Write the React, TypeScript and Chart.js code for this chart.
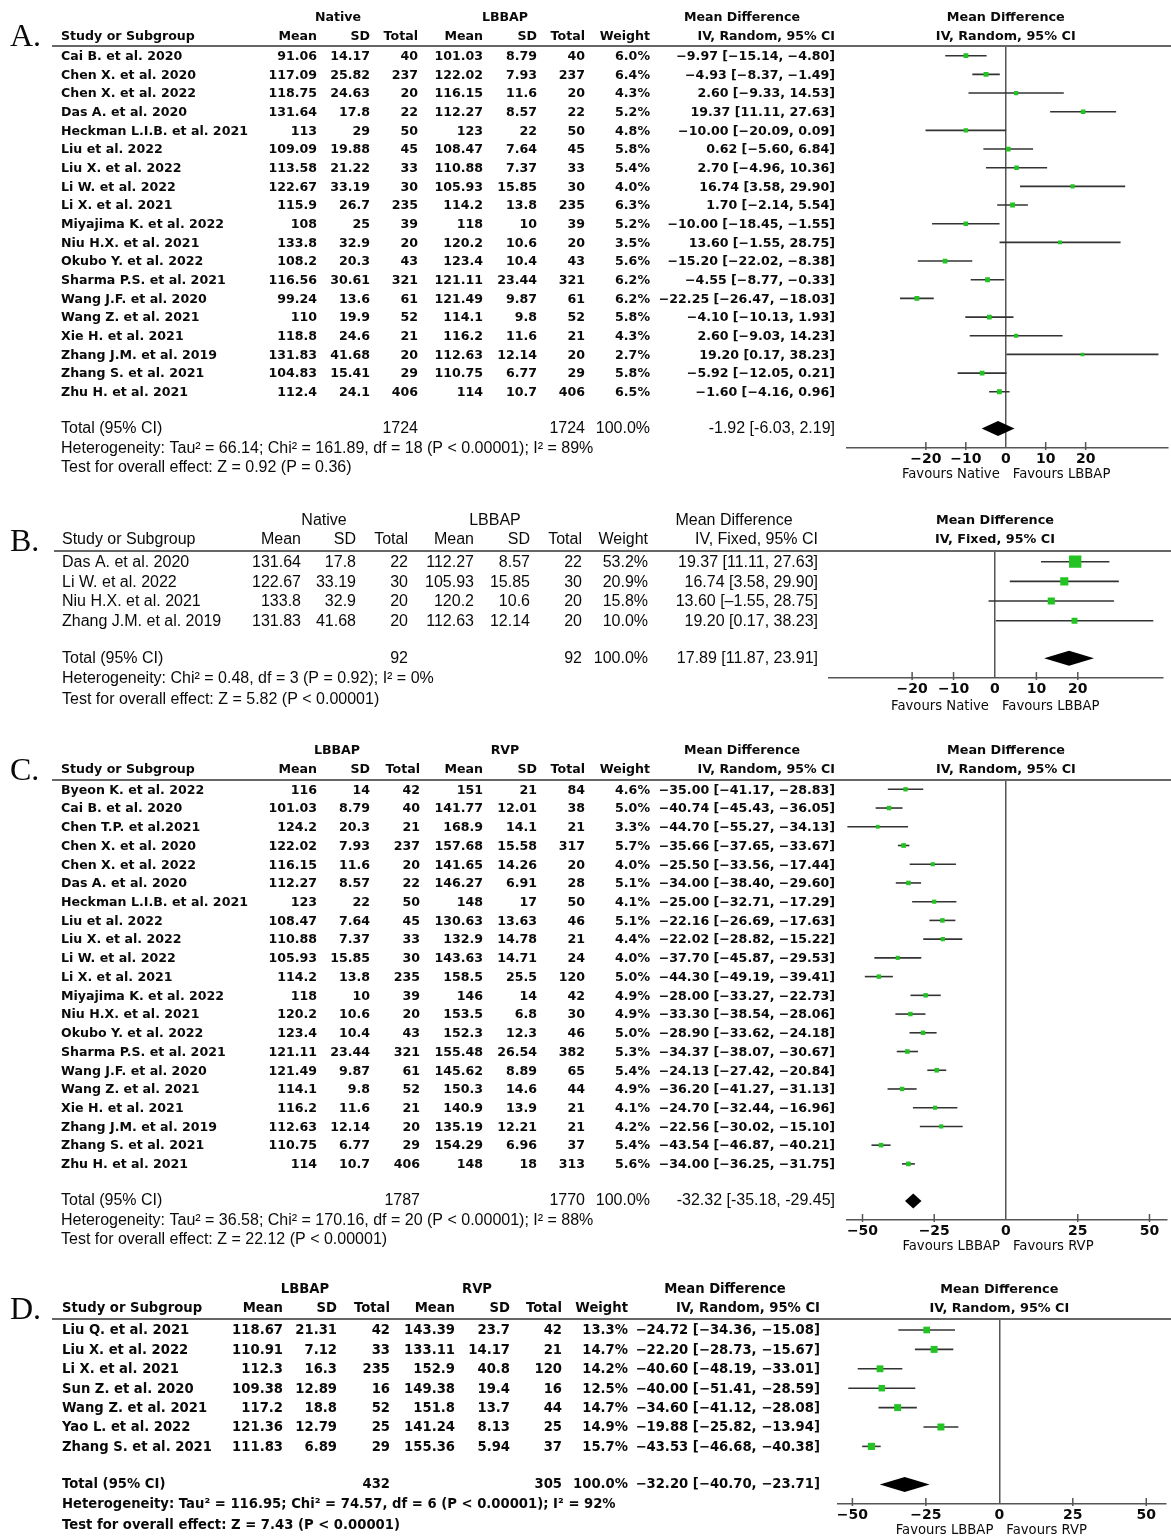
import React, { useEffect, useRef } from "react";
import { Chart, registerables } from "chart.js";

Chart.register(...registerables);

const PAGE_W = 1171;
const PAGE_H = 1537;

// ===== Panel A: Native vs LBBAP (IV, Random) =====
const aStudies = ["Cai B. et al. 2020", "Chen X. et al. 2020", "Chen X. et al. 2022", "Das A. et al. 2020", "Heckman L.I.B. et al. 2021", "Liu et al. 2022", "Liu X. et al. 2022", "Li W. et al. 2022", "Li X. et al. 2021", "Miyajima K. et al. 2022", "Niu H.X. et al. 2021", "Okubo Y. et al. 2022", "Sharma P.S. et al. 2021", "Wang J.F. et al. 2020", "Wang Z. et al. 2021", "Xie H. et al. 2021", "Zhang J.M. et al. 2019", "Zhang S. et al. 2021", "Zhu H. et al. 2021"];
const aNativeMean = [91.06, 117.09, 118.75, 131.64, 113, 109.09, 113.58, 122.67, 115.9, 108, 133.8, 108.2, 116.56, 99.24, 110, 118.8, 131.83, 104.83, 112.4];
const aNativeSD = [14.17, 25.82, 24.63, 17.8, 29, 19.88, 21.22, 33.19, 26.7, 25, 32.9, 20.3, 30.61, 13.6, 19.9, 24.6, 41.68, 15.41, 24.1];
const aNativeN = [40, 237, 20, 22, 50, 45, 33, 30, 235, 39, 20, 43, 321, 61, 52, 21, 20, 29, 406];
const aLbbapMean = [101.03, 122.02, 116.15, 112.27, 123, 108.47, 110.88, 105.93, 114.2, 118, 120.2, 123.4, 121.11, 121.49, 114.1, 116.2, 112.63, 110.75, 114];
const aLbbapSD = [8.79, 7.93, 11.6, 8.57, 22, 7.64, 7.37, 15.85, 13.8, 10, 10.6, 10.4, 23.44, 9.87, 9.8, 11.6, 12.14, 6.77, 10.7];
const aLbbapN = [40, 237, 20, 22, 50, 45, 33, 30, 235, 39, 20, 43, 321, 61, 52, 21, 20, 29, 406];
const aWeight = [6.0, 6.4, 4.3, 5.2, 4.8, 5.8, 5.4, 4.0, 6.3, 5.2, 3.5, 5.6, 6.2, 6.2, 5.8, 4.3, 2.7, 5.8, 6.5];
const aMD = [-9.97, -4.93, 2.6, 19.37, -10.0, 0.62, 2.7, 16.74, 1.7, -10.0, 13.6, -15.2, -4.55, -22.25, -4.1, 2.6, 19.2, -5.92, -1.6];
const aLow = [-15.14, -8.37, -9.33, 11.11, -20.09, -5.6, -4.96, 3.58, -2.14, -18.45, -1.55, -22.02, -8.77, -26.47, -10.13, -9.03, 0.17, -12.05, -4.16];
const aHigh = [-4.8, -1.49, 14.53, 27.63, 0.09, 6.84, 10.36, 29.9, 5.54, -1.55, 28.75, -8.38, -0.33, -18.03, 1.93, 14.23, 38.23, 0.21, 0.96];
const aTotalN = [1724, 1724];
const aTotalMD = [-1.92, -6.03, 2.19];
const aTicks = [-20, -10, 0, 10, 20];
const aHet = "Heterogeneity: Tau² = 66.14; Chi² = 161.89, df = 18 (P < 0.00001); I² = 89%";
const aTest = "Test for overall effect: Z = 0.92 (P = 0.36)";

// ===== Panel B: Native vs LBBAP (IV, Fixed) =====
const bStudies = ["Das A. et al. 2020", "Li W. et al. 2022", "Niu H.X. et al. 2021", "Zhang J.M. et al. 2019"];
const bNativeMean = [131.64, 122.67, 133.8, 131.83];
const bNativeSD = [17.8, 33.19, 32.9, 41.68];
const bNativeN = [22, 30, 20, 20];
const bLbbapMean = [112.27, 105.93, 120.2, 112.63];
const bLbbapSD = [8.57, 15.85, 10.6, 12.14];
const bLbbapN = [22, 30, 20, 20];
const bWeight = [53.2, 20.9, 15.8, 10.0];
const bMD = [19.37, 16.74, 13.6, 19.2];
const bLow = [11.11, 3.58, -1.55, 0.17];
const bHigh = [27.63, 29.9, 28.75, 38.23];
const bTotalN = [92, 92];
const bTotalMD = [17.89, 11.87, 23.91];
const bTicks = [-20, -10, 0, 10, 20];
const bHet = "Heterogeneity: Chi² = 0.48, df = 3 (P = 0.92); I² = 0%";
const bTest = "Test for overall effect: Z = 5.82 (P < 0.00001)";

// ===== Panel C: LBBAP vs RVP (IV, Random) =====
const cStudies = ["Byeon K. et al. 2022", "Cai B. et al. 2020", "Chen T.P. et al.2021", "Chen X. et al. 2020", "Chen X. et al. 2022", "Das A. et al. 2020", "Heckman L.I.B. et al. 2021", "Liu et al. 2022", "Liu X. et al. 2022", "Li W. et al. 2022", "Li X. et al. 2021", "Miyajima K. et al. 2022", "Niu H.X. et al. 2021", "Okubo Y. et al. 2022", "Sharma P.S. et al. 2021", "Wang J.F. et al. 2020", "Wang Z. et al. 2021", "Xie H. et al. 2021", "Zhang J.M. et al. 2019", "Zhang S. et al. 2021", "Zhu H. et al. 2021"];
const cLbbapMean = [116, 101.03, 124.2, 122.02, 116.15, 112.27, 123, 108.47, 110.88, 105.93, 114.2, 118, 120.2, 123.4, 121.11, 121.49, 114.1, 116.2, 112.63, 110.75, 114];
const cLbbapSD = [14, 8.79, 20.3, 7.93, 11.6, 8.57, 22, 7.64, 7.37, 15.85, 13.8, 10, 10.6, 10.4, 23.44, 9.87, 9.8, 11.6, 12.14, 6.77, 10.7];
const cLbbapN = [42, 40, 21, 237, 20, 22, 50, 45, 33, 30, 235, 39, 20, 43, 321, 61, 52, 21, 20, 29, 406];
const cRvpMean = [151, 141.77, 168.9, 157.68, 141.65, 146.27, 148, 130.63, 132.9, 143.63, 158.5, 146, 153.5, 152.3, 155.48, 145.62, 150.3, 140.9, 135.19, 154.29, 148];
const cRvpSD = [21, 12.01, 14.1, 15.58, 14.26, 6.91, 17, 13.63, 14.78, 14.71, 25.5, 14, 6.8, 12.3, 26.54, 8.89, 14.6, 13.9, 12.21, 6.96, 18];
const cRvpN = [84, 38, 21, 317, 20, 28, 50, 46, 21, 24, 120, 42, 30, 46, 382, 65, 44, 21, 21, 37, 313];
const cWeight = [4.6, 5.0, 3.3, 5.7, 4.0, 5.1, 4.1, 5.1, 4.4, 4.0, 5.0, 4.9, 4.9, 5.0, 5.3, 5.4, 4.9, 4.1, 4.2, 5.4, 5.6];
const cMD = [-35.0, -40.74, -44.7, -35.66, -25.5, -34.0, -25.0, -22.16, -22.02, -37.7, -44.3, -28.0, -33.3, -28.9, -34.37, -24.13, -36.2, -24.7, -22.56, -43.54, -34.0];
const cLow = [-41.17, -45.43, -55.27, -37.65, -33.56, -38.4, -32.71, -26.69, -28.82, -45.87, -49.19, -33.27, -38.54, -33.62, -38.07, -27.42, -41.27, -32.44, -30.02, -46.87, -36.25];
const cHigh = [-28.83, -36.05, -34.13, -33.67, -17.44, -29.6, -17.29, -17.63, -15.22, -29.53, -39.41, -22.73, -28.06, -24.18, -30.67, -20.84, -31.13, -16.96, -15.1, -40.21, -31.75];
const cTotalN = [1787, 1770];
const cTotalMD = [-32.32, -35.18, -29.45];
const cTicks = [-50, -25, 0, 25, 50];
const cHet = "Heterogeneity: Tau² = 36.58; Chi² = 170.16, df = 20 (P < 0.00001); I² = 88%";
const cTest = "Test for overall effect: Z = 22.12 (P < 0.00001)";

// ===== Panel D: LBBAP vs RVP (IV, Random) =====
const dStudies = ["Liu Q. et al. 2021", "Liu X. et al. 2022", "Li X. et al. 2021", "Sun Z. et al. 2020", "Wang Z. et al. 2021", "Yao L. et al. 2022", "Zhang S. et al. 2021"];
const dLbbapMean = [118.67, 110.91, 112.3, 109.38, 117.2, 121.36, 111.83];
const dLbbapSD = [21.31, 7.12, 16.3, 12.89, 18.8, 12.79, 6.89];
const dLbbapN = [42, 33, 235, 16, 52, 25, 29];
const dRvpMean = [143.39, 133.11, 152.9, 149.38, 151.8, 141.24, 155.36];
const dRvpSD = [23.7, 14.17, 40.8, 19.4, 13.7, 8.13, 5.94];
const dRvpN = [42, 21, 120, 16, 44, 25, 37];
const dWeight = [13.3, 14.7, 14.2, 12.5, 14.7, 14.9, 15.7];
const dMD = [-24.72, -22.2, -40.6, -40.0, -34.6, -19.88, -43.53];
const dLow = [-34.36, -28.73, -48.19, -51.41, -41.12, -25.82, -46.68];
const dHigh = [-15.08, -15.67, -33.01, -28.59, -28.08, -13.94, -40.38];
const dTotalN = [432, 305];
const dTotalMD = [-32.2, -40.7, -23.71];
const dTicks = [-50, -25, 0, 25, 50];
const dHet = "Heterogeneity: Tau² = 116.95; Chi² = 74.57, df = 6 (P < 0.00001); I² = 92%";
const dTest = "Test for overall effect: Z = 7.43 (P < 0.00001)";

// ===== styles =====
const INK = "#0a0a0a";
const GREEN = "#22c322";
const CI_COLOR = "#333333";
const RULE = "#666666";
const AXIS_COLOR = "#555555";
const LUCIDA = (s: number) => `bold ${s}px "DejaVu Sans"`;
const LUCIDA_REG = (s: number) => `${s}px "DejaVu Sans"`;
const NARROW = (s: number) => `${s}px "Liberation Sans"`;
const AXIS_H = 24;

type Layout = {
  top: number; height: number; letterY: number;
  h1: number; h2: number; line: number; lineX: number;
  row0: number; rowH: number; dy: number;
  totalY: number; hetY: number; testY: number;
  axisY: number; favY: number;
  plotL: number; plotR: number; xMin: number; xMax: number;
  studyX: number; cols: number[];
  g1X: number; g2X: number; mdX: number;
  font: string; headFont: string; totFont: string;
  minus: string; totMinus: string;
};

type Spec = {
  letter: string; group1: string; group2: string; method: string;
  studies: string[]; m1: number[]; s1: number[]; n1: number[];
  m2: number[]; s2: number[]; n2: number[]; w: number[];
  md: number[]; lo: number[]; hi: number[];
  totN: number[]; totMD: number[]; het: string; test: string;
  ticks: number[]; fav: string[]; L: Layout;
};

const specs: Spec[] = [
  {
    letter: "A.", group1: "Native", group2: "LBBAP", method: "IV, Random, 95% CI",
    studies: aStudies, m1: aNativeMean, s1: aNativeSD, n1: aNativeN, m2: aLbbapMean, s2: aLbbapSD, n2: aLbbapN,
    w: aWeight, md: aMD, lo: aLow, hi: aHigh, totN: aTotalN, totMD: aTotalMD, het: aHet, test: aTest,
    ticks: aTicks, fav: ["Favours Native", "Favours LBBAP"],
    L: {
      top: 0, height: 490, letterY: 46, h1: 17.5, h2: 36.5, line: 46, lineX: 52,
      row0: 55.7, rowH: 18.67, dy: 1, totalY: 428.5, hetY: 449, testY: 468, axisY: 448, favY: 475,
      plotL: 847, plotR: 1168, xMin: -39.75, xMax: 40.5,
      studyX: 61, cols: [317, 370, 418, 483, 537, 585, 650, 835], g1X: 338, g2X: 505, mdX: 742,
      font: LUCIDA(12.6), headFont: LUCIDA(12.6), totFont: NARROW(16), minus: "\u2212", totMinus: "-",
    },
  },
  {
    letter: "B.", group1: "Native", group2: "LBBAP", method: "IV, Fixed, 95% CI",
    studies: bStudies, m1: bNativeMean, s1: bNativeSD, n1: bNativeN, m2: bLbbapMean, s2: bLbbapSD, n2: bLbbapN,
    w: bWeight, md: bMD, lo: bLow, hi: bHigh, totN: bTotalN, totMD: bTotalMD, het: bHet, test: bTest,
    ticks: bTicks, fav: ["Favours Native", "Favours LBBAP"],
    L: {
      top: 490, height: 230, letterY: 551, h1: 521, h2: 540, line: 551, lineX: 54,
      row0: 561.7, rowH: 19.67, dy: 1, totalY: 658.3, hetY: 679, testY: 700, axisY: 678, favY: 707,
      plotL: 829, plotR: 1167, xMin: -40.07, xMax: 40.4,
      studyX: 62, cols: [301, 356, 408, 474, 530, 582, 648, 818], g1X: 324, g2X: 495, mdX: 734,
      font: NARROW(16), headFont: NARROW(16), totFont: NARROW(16), minus: "\u2013", totMinus: "-",
    },
  },
  {
    letter: "C.", group1: "LBBAP", group2: "RVP", method: "IV, Random, 95% CI",
    studies: cStudies, m1: cLbbapMean, s1: cLbbapSD, n1: cLbbapN, m2: cRvpMean, s2: cRvpSD, n2: cRvpN,
    w: cWeight, md: cMD, lo: cLow, hi: cHigh, totN: cTotalN, totMD: cTotalMD, het: cHet, test: cTest,
    ticks: cTicks, fav: ["Favours LBBAP", "Favours RVP"],
    L: {
      top: 720, height: 545, letterY: 780, h1: 751, h2: 770, line: 780, lineX: 52,
      row0: 789.3, rowH: 18.73, dy: 1, totalY: 1201, hetY: 1221, testY: 1240, axisY: 1220, favY: 1247,
      plotL: 847, plotR: 1167, xMin: -55.4, xMax: 56.1,
      studyX: 61, cols: [317, 370, 420, 483, 537, 585, 650, 835], g1X: 337, g2X: 505, mdX: 742,
      font: LUCIDA(12.6), headFont: LUCIDA(12.6), totFont: NARROW(16), minus: "\u2212", totMinus: "-",
    },
  },
  {
    letter: "D.", group1: "LBBAP", group2: "RVP", method: "IV, Random, 95% CI",
    studies: dStudies, m1: dLbbapMean, s1: dLbbapSD, n1: dLbbapN, m2: dRvpMean, s2: dRvpSD, n2: dRvpN,
    w: dWeight, md: dMD, lo: dLow, hi: dHigh, totN: dTotalN, totMD: dTotalMD, het: dHet, test: dTest,
    ticks: dTicks, fav: ["Favours LBBAP", "Favours RVP"],
    L: {
      top: 1265, height: 272, letterY: 1319, h1: 1290, h2: 1309, line: 1319, lineX: 52,
      row0: 1330, rowH: 19.4, dy: 1, totalY: 1484.5, hetY: 1505, testY: 1526, axisY: 1504, favY: 1531,
      plotL: 838, plotR: 1166, xMin: -54.9, xMax: 56.7,
      studyX: 62, cols: [283, 337, 390, 455, 510, 562, 628, 820], g1X: 305, g2X: 477, mdX: 725,
      font: LUCIDA(13.2), headFont: LUCIDA(13.2), totFont: LUCIDA(13.2), minus: "\u2212", totMinus: "\u2212",
    },
  },
];

function fmt(v: number, minus: string) {
  return (v < 0 ? minus : "") + Math.abs(v).toFixed(2);
}
function ciText(md: number, lo: number, hi: number, minus: string) {
  return `${fmt(md, minus)} [${fmt(lo, minus)}, ${fmt(hi, minus)}]`;
}
function put(ctx: CanvasRenderingContext2D, s: string, x: number, y: number, align: CanvasTextAlign, font: string) {
  ctx.font = font;
  ctx.textAlign = align;
  ctx.fillText(s, x, y);
}
function squareSide(w: number) {
  return 1.0 + 1.55 * Math.sqrt(w);
}

function makePlugin(S: Spec) {
  const L = S.L;
  const T = L.top;
  const totalIdx = (L.totalY - L.row0) / L.rowH;
  const idxOf = (pageY: number) => (pageY - L.row0) / L.rowH;
  return {
    id: "forestTable" + S.letter,
    afterDatasetsDraw(chart: any) {
      const ctx = chart.ctx as CanvasRenderingContext2D;
      const xs = chart.scales.x;
      const ys = chart.scales.y;
      const y = ys.getPixelForValue(totalIdx);
      const [m, lo, hi] = S.totMD;
      const hh = 7.5;
      ctx.save();
      ctx.fillStyle = "#000";
      ctx.beginPath();
      ctx.moveTo(xs.getPixelForValue(lo), y);
      ctx.lineTo(xs.getPixelForValue(m), y - hh);
      ctx.lineTo(xs.getPixelForValue(hi), y);
      ctx.lineTo(xs.getPixelForValue(m), y + hh);
      ctx.closePath();
      ctx.fill();
      ctx.restore();
    },
    afterDraw(chart: any) {
      const ctx = chart.ctx as CanvasRenderingContext2D;
      const xs = chart.scales.x;
      const ys = chart.scales.y;
      const c = L.cols;
      ctx.save();
      ctx.fillStyle = INK;
      // panel letter
      ctx.textBaseline = "alphabetic";
      put(ctx, S.letter, 10, L.letterY - T, "left", '32px "Liberation Serif"');
      ctx.textBaseline = "middle";
      // header rule
      ctx.strokeStyle = RULE;
      ctx.lineWidth = 2;
      ctx.beginPath();
      ctx.moveTo(L.lineX, L.line - T);
      ctx.lineTo(PAGE_W, L.line - T);
      ctx.stroke();
      // headers
      const h1 = L.h1 - T;
      const h2 = L.h2 - T;
      put(ctx, S.group1, L.g1X, h1, "center", L.headFont);
      put(ctx, S.group2, L.g2X, h1, "center", L.headFont);
      put(ctx, "Mean Difference", L.mdX, h1, "center", L.headFont);
      put(ctx, "Study or Subgroup", L.studyX, h2, "left", L.headFont);
      ["Mean", "SD", "Total", "Mean", "SD", "Total", "Weight", S.method].forEach((h, k) =>
        put(ctx, h, c[k], h2, "right", L.headFont)
      );
      const z = xs.getPixelForValue(0);
      put(ctx, "Mean Difference", z, h1, "center", LUCIDA(12.8));
      put(ctx, S.method, z, h2, "center", LUCIDA(12.8));
      // study rows
      S.studies.forEach((name, i) => {
        const y = ys.getPixelForValue(i) + L.dy;
        put(ctx, name, L.studyX, y, "left", L.font);
        const vals = [
          String(S.m1[i]), String(S.s1[i]), String(S.n1[i]),
          String(S.m2[i]), String(S.s2[i]), String(S.n2[i]),
          S.w[i].toFixed(1) + "%", ciText(S.md[i], S.lo[i], S.hi[i], L.minus),
        ];
        vals.forEach((v, k) => put(ctx, v, c[k], y, "right", L.font));
      });
      // total row
      const ty = ys.getPixelForValue(totalIdx);
      put(ctx, "Total (95% CI)", L.studyX, ty, "left", L.totFont);
      put(ctx, String(S.totN[0]), c[2], ty, "right", L.totFont);
      put(ctx, String(S.totN[1]), c[5], ty, "right", L.totFont);
      put(ctx, "100.0%", c[6], ty, "right", L.totFont);
      put(ctx, ciText(S.totMD[0], S.totMD[1], S.totMD[2], L.totMinus), c[7], ty, "right", L.totFont);
      put(ctx, S.het, L.studyX, ys.getPixelForValue(idxOf(L.hetY)), "left", L.totFont);
      put(ctx, S.test, L.studyX, ys.getPixelForValue(idxOf(L.testY)), "left", L.totFont);
      // tick marks (upwards from the axis)
      const ay = xs.top;
      ctx.strokeStyle = AXIS_COLOR;
      ctx.lineWidth = 1.5;
      xs.ticks.forEach((t: any) => {
        if (t.value === 0) return;
        const px = xs.getPixelForValue(t.value);
        ctx.beginPath();
        ctx.moveTo(px, ay - 6);
        ctx.lineTo(px, ay + 2);
        ctx.stroke();
      });
      // favours labels
      const fy = L.favY - T;
      put(ctx, S.fav[0], z - 6, fy, "right", LUCIDA_REG(13.2));
      put(ctx, S.fav[1], z + 7, fy, "left", LUCIDA_REG(13.2));
      ctx.restore();
    },
  };
}

function buildConfig(S: Spec): any {
  const L = S.L;
  const yMin = -(L.row0 - L.line) / L.rowH;
  const yMax = yMin + (L.axisY - L.line) / L.rowH;
  const padBottom = L.height - (L.axisY - L.top) - AXIS_H;
  const ciSets = S.lo.map((lo, i) => ({
    type: "line",
    data: [{ x: lo, y: i }, { x: S.hi[i], y: i }],
    borderColor: CI_COLOR,
    borderWidth: 1.6,
    pointRadius: 0,
    showLine: true,
    fill: false,
    order: 2,
  }));
  const boxes = {
    type: "scatter",
    data: S.md.map((m, i) => ({ x: m, y: i })),
    pointStyle: "rect",
    pointRadius: S.w.map((w) => squareSide(w) / 1.4142),
    pointHoverRadius: S.w.map((w) => squareSide(w) / 1.4142),
    backgroundColor: GREEN,
    pointBackgroundColor: GREEN,
    borderWidth: 0,
    pointBorderWidth: 0,
    order: 0,
  };
  return {
    type: "scatter",
    data: { datasets: [boxes, ...ciSets] },
    options: {
      responsive: false,
      maintainAspectRatio: false,
      animation: false,
      events: [],
      layout: { padding: { left: L.plotL, right: PAGE_W - L.plotR, top: L.line - L.top, bottom: padBottom } },
      plugins: { legend: { display: false }, tooltip: { enabled: false }, title: { display: false } },
      scales: {
        x: {
          type: "linear",
          min: L.xMin,
          max: L.xMax,
          afterBuildTicks: (s: any) => {
            s.ticks = S.ticks.map((v) => ({ value: v }));
          },
          afterFit: (s: any) => {
            s.height = AXIS_H;
          },
          grid: {
            display: true,
            drawOnChartArea: true,
            drawTicks: false,
            tickLength: 0,
            lineWidth: 1.5,
            color: (ctx: any) => (ctx.tick && ctx.tick.value === 0 ? AXIS_COLOR : "rgba(0,0,0,0)"),
          },
          border: { display: true, color: AXIS_COLOR, width: 1.5 },
          ticks: {
            autoSkip: false,
            maxRotation: 0,
            padding: 3,
            color: INK,
            font: { family: "DejaVu Sans", size: 14, weight: "bold" },
            callback: (v: any) => (Number(v) < 0 ? "\u2212" + Math.abs(Number(v)) : String(v)),
          },
        },
        y: { type: "linear", display: false, reverse: true, min: yMin, max: yMax },
      },
    },
    plugins: [makePlugin(S)],
  };
}

function Panel({ spec }: { spec: Spec }) {
  const ref = useRef<HTMLCanvasElement | null>(null);
  useEffect(() => {
    const canvas = ref.current;
    if (!canvas) return;
    const chart = new Chart(canvas, buildConfig(spec));
    return () => chart.destroy();
  }, [spec]);
  return (
    <canvas
      ref={ref}
      width={PAGE_W}
      height={spec.L.height}
      style={{ position: "absolute", left: 0, top: spec.L.top, width: PAGE_W, height: spec.L.height, display: "block" }}
    />
  );
}

export default function App() {
  return (
    <div style={{ position: "absolute", left: 0, top: 0, width: PAGE_W, height: PAGE_H, background: "#fff", overflow: "hidden" }}>
      {specs.map((s) => (
        <Panel key={s.letter} spec={s} />
      ))}
    </div>
  );
}
